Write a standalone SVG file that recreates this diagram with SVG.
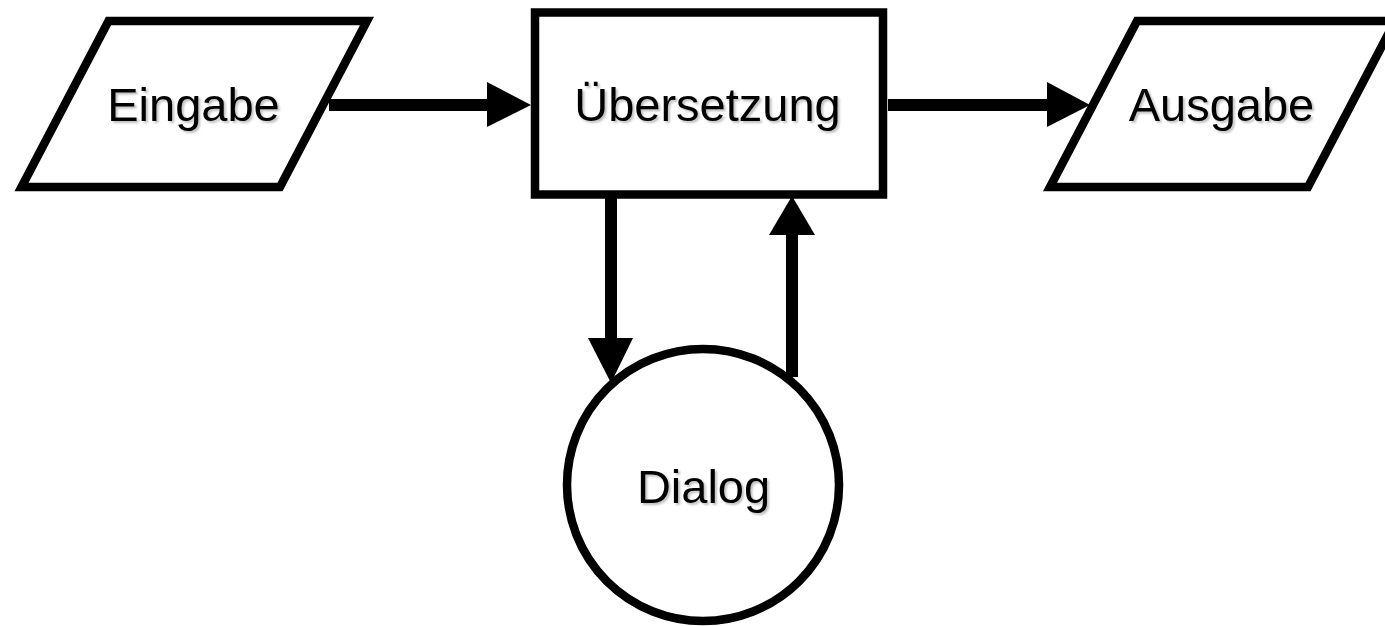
<svg xmlns="http://www.w3.org/2000/svg" width="1385" height="626" viewBox="0 0 1385 626">
<style>
.shape{fill:#fff;stroke:#000;stroke-width:8.5;stroke-linejoin:miter}
.lbl{font-family:"Liberation Sans",Arial,sans-serif;font-size:47px;fill:#000;text-anchor:middle;filter:url(#sh)}
.conn{stroke:#000;stroke-width:12;fill:none}
.head{fill:#000;stroke:none}
</style>
<defs>
<filter id="sh" x="-10%" y="-20%" width="120%" height="150%">
<feDropShadow dx="2" dy="2" stdDeviation="1" flood-color="#000" flood-opacity="0.25"/>
</filter>
</defs>
<rect width="1385" height="626" fill="#fff"/>
<g id="connectors">
<line class="conn" x1="329" y1="105" x2="490" y2="105"/>
<polygon class="head" points="487,82 531,105 487,127"/>
<line class="conn" x1="888" y1="105" x2="1050" y2="105"/>
<polygon class="head" points="1047,82 1090,105 1047,127"/>
<line class="conn" x1="611" y1="195" x2="611" y2="340"/>
<polygon class="head" points="588,338 611,383 633,338"/>
<line class="conn" x1="792" y1="377" x2="792" y2="232"/>
<polygon class="head" points="769,235 792,196 815,235"/>
</g>
<g id="eingabe">
<polygon class="shape" points="108.5,21 367,21 280,187 21.5,187"/>
<text class="lbl" x="193.5" y="121">Eingabe</text>
</g>
<g id="uebersetzung">
<rect class="shape" x="535" y="12.5" width="348" height="182"/>
<text class="lbl" x="707.5" y="121">Übersetzung</text>
</g>
<g id="ausgabe">
<polygon class="shape" points="1137,21 1395,21 1308,187 1050,187"/>
<text class="lbl" x="1221.5" y="121">Ausgabe</text>
</g>
<g id="dialog">
<circle class="shape" cx="703" cy="485" r="136"/>
<text class="lbl" x="703.5" y="503">Dialog</text>
</g>
</svg>
